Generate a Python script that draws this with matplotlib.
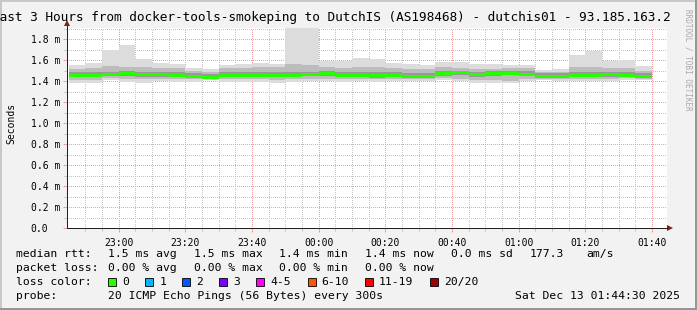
import matplotlib.pyplot as plt
import numpy as np
from matplotlib.patches import Rectangle

# time axis: minutes after 22:00, one smoke step every 5 minutes (22:45 .. 01:35)
step_start = np.arange(45, 220, 5)
t_begin, t_end = 44.5, 224.5          # 22:44:30 .. 01:44:30

# round trip times in ms
rtt_max = [1.552, 1.574, 1.695, 1.743, 1.610, 1.574, 1.562, 1.521, 1.511, 1.552,
           1.562, 1.574, 1.562, 1.950, 1.950, 1.594, 1.594, 1.619, 1.610, 1.574,
           1.562, 1.552, 1.584, 1.578, 1.559, 1.559, 1.552, 1.552, 1.505, 1.514,
           1.648, 1.686, 1.590, 1.600, 1.543]
rtt_hi = [1.515, 1.520, 1.540, 1.530, 1.530, 1.520, 1.520, 1.500, 1.490, 1.520,
          1.525, 1.530, 1.530, 1.560, 1.550, 1.530, 1.520, 1.530, 1.530, 1.520,
          1.510, 1.510, 1.530, 1.520, 1.510, 1.510, 1.520, 1.520, 1.490, 1.490,
          1.530, 1.530, 1.520, 1.520, 1.500]
inner_hi = [1.485, 1.485, 1.490, 1.495, 1.490, 1.490, 1.490, 1.480, 1.470, 1.490,
            1.490, 1.490, 1.490, 1.490, 1.490, 1.495, 1.490, 1.490, 1.485, 1.485,
            1.480, 1.480, 1.495, 1.500, 1.490, 1.495, 1.500, 1.495, 1.475, 1.475,
            1.490, 1.490, 1.490, 1.490, 1.475]
rtt_median = [1.452, 1.450, 1.462, 1.470, 1.458, 1.458, 1.457, 1.445, 1.436, 1.457,
              1.452, 1.450, 1.450, 1.455, 1.462, 1.468, 1.452, 1.455, 1.448, 1.450,
              1.447, 1.447, 1.468, 1.478, 1.462, 1.470, 1.476, 1.466, 1.447, 1.447,
              1.456, 1.456, 1.458, 1.456, 1.440]
inner_lo = [1.435, 1.435, 1.445, 1.445, 1.440, 1.440, 1.440, 1.430, 1.425, 1.440,
            1.435, 1.435, 1.435, 1.440, 1.445, 1.445, 1.435, 1.440, 1.430, 1.435,
            1.430, 1.430, 1.450, 1.455, 1.440, 1.450, 1.455, 1.445, 1.430, 1.430,
            1.440, 1.440, 1.440, 1.440, 1.425]
rtt_lo = [1.410, 1.410, 1.425, 1.415, 1.415, 1.420, 1.415, 1.415, 1.420, 1.415,
          1.415, 1.415, 1.410, 1.415, 1.420, 1.420, 1.415, 1.420, 1.415, 1.420,
          1.415, 1.415, 1.425, 1.420, 1.410, 1.410, 1.405, 1.420, 1.420, 1.420,
          1.420, 1.420, 1.420, 1.425, 1.420]
rtt_min = [1.378, 1.378, 1.410, 1.394, 1.384, 1.403, 1.394, 1.394, 1.410, 1.394,
           1.394, 1.394, 1.384, 1.394, 1.403, 1.403, 1.394, 1.400, 1.394, 1.403,
           1.400, 1.400, 1.410, 1.400, 1.385, 1.385, 1.380, 1.400, 1.410, 1.400,
           1.400, 1.400, 1.400, 1.410, 1.410]

x_major = [60, 80, 100, 120, 140, 160, 180, 200, 220]
x_labels = ['23:00', '23:20', '23:40', '00:00', '00:20', '00:40', '01:00', '01:20', '01:40']
y_major = [0.0, 0.2, 0.4, 0.6, 0.8, 1.0, 1.2, 1.4, 1.6, 1.8]
y_labels = ['0.0', '0.2 m', '0.4 m', '0.6 m', '0.8 m', '1.0 m', '1.2 m', '1.4 m', '1.6 m', '1.8 m']

loss_labels = ['0', '1', '2', '3', '4-5', '6-10', '11-19', '20/20']
loss_colors = ['#26ff00', '#00b8ff', '#0059ff', '#7e00ff', '#ff00ff', '#ff5500', '#ff0000', '#a10000']

rtt_stats = ['1.5 ms avg', '1.5 ms max', '1.4 ms min', '1.4 ms now', '0.0 ms sd', '177.3', 'am/s']
loss_stats = ['0.00 % avg', '0.00 % max', '0.00 % min', '0.00 % now']

W, H = 697, 310
MONO = 'DejaVu Sans Mono'
BACK = '#f2f2f2'
GRID = '#c4c4c4'
MGRID = '#f0a0a0'
AXIS = (0.12, 0.12, 0.12)
ARROW = (0.5, 0.12, 0.12)


def fx(px):
    return px / W


def fy(py):
    return 1 - py / H


fig = plt.figure(figsize=(W / 100, H / 100), dpi=100, facecolor=BACK)

# 3d border
fig.add_artist(Rectangle((0, fy(2)), 1, 2 / H, transform=fig.transFigure, color='#c8c8c8', lw=0))
fig.add_artist(Rectangle((0, 0), 2 / W, 1, transform=fig.transFigure, color='#c8c8c8', lw=0))
fig.add_artist(Rectangle((0, 0), 1, 2 / H, transform=fig.transFigure, color='#969696', lw=0))
fig.add_artist(Rectangle((1 - 2 / W, 0), 2 / W, 1, transform=fig.transFigure, color='#969696', lw=0))

ax = fig.add_axes([fx(67), fy(228), 600 / W, (228 - 27.5) / H])
ax.set_facecolor('white')

edges = np.append(step_start, step_start[-1] + 5)


def ext(v):
    v = np.asarray(v)
    return np.append(v, v[-1])


ax.fill_between(edges, ext(rtt_min), ext(rtt_max), step='post', color='#dcdcdc', lw=0, zorder=2)
ax.fill_between(edges, ext(rtt_lo), ext(rtt_hi), step='post', color='#bcbcbc', lw=0, zorder=2)
ax.fill_between(edges, ext(inner_lo), ext(inner_hi), step='post', color='#999999', lw=0, zorder=2)

# median drawn as a thin band in the loss colour
half = 1.5 / 105
med = ext(rtt_median)
ax.fill_between(edges, med - half, med + half, step='post', color=loss_colors[0], lw=0, zorder=3)

ax.set_xlim(t_begin, t_end)
ax.set_ylim(0, 1.91)

ax.set_xticks(x_major)
ax.set_xticklabels(x_labels)
ax.set_xticks([m for m in range(50, 225, 5) if m not in x_major], minor=True)
ax.set_yticks(y_major)
ax.set_yticklabels(y_labels)
ax.set_yticks(np.arange(0.1, 1.95, 0.2), minor=True)

ax.set_axisbelow(True)
ax.grid(which='major', color=MGRID, linestyle=(0, (1, 2)), linewidth=0.72, antialiased=False)
ax.grid(which='minor', color=GRID, linestyle=(0, (1, 2)), linewidth=0.72, antialiased=False)

ax.tick_params(which='major', length=3, width=0.72, color=MGRID, labelsize=7)
ax.tick_params(which='minor', length=2, width=0.72, color=GRID)
ax.tick_params(axis='x', pad=4)
ax.tick_params(axis='y', pad=23.2)
for lbl in ax.get_xticklabels() + ax.get_yticklabels():
    lbl.set_fontfamily(MONO)
for lbl in ax.get_yticklabels():
    lbl.set_horizontalalignment('left')

ax.spines['top'].set_visible(False)
ax.spines['right'].set_visible(False)
ax.spines['left'].set_color(AXIS)
ax.spines['bottom'].set_color(AXIS)
ax.spines['left'].set_linewidth(0.72)
ax.spines['bottom'].set_linewidth(0.72)

# axis arrows
ax.plot([0, 0], [1, 1 + 4 / 200.5], color=AXIS, lw=0.72, transform=ax.transAxes, clip_on=False)
ax.plot([1, 1 + 3 / 600], [0, 0], color=AXIS, lw=0.72, transform=ax.transAxes, clip_on=False)
ax.plot([0], [1 + 4 / 200.5], marker='^', ms=4.5, color=ARROW, mew=0, transform=ax.transAxes, clip_on=False)
ax.plot([1 + 3 / 600], [0], marker='>', ms=4.5, color=ARROW, mew=0, transform=ax.transAxes, clip_on=False)

fig.text(fx(-7.7), fy(17), 'Last 3 Hours from docker-tools-smokeping to DutchIS (AS198468) - dutchis01 - 93.185.163.2',
         family=MONO, fontsize=9.2, ha='left', va='center')
fig.text(fx(11), fy(123), 'Seconds', family=MONO, fontsize=7, rotation=90, ha='center', va='center')
fig.text(fx(688), fy(60), 'RRDTOOL / TOBI OETIKER', family=MONO, fontsize=5.5, rotation=-90,
         ha='center', va='center', color='#a8a8a8')

LEG = 8.2
row = [254, 268, 282, 296]
stat_x = [107.6, 193.8, 279, 365, 451, 530, 586]

fig.text(fx(16.4), fy(row[0]), 'median rtt:', family=MONO, fontsize=LEG, va='center')
for s, px in zip(rtt_stats, stat_x):
    fig.text(fx(px), fy(row[0]), s, family=MONO, fontsize=LEG, va='center')

fig.text(fx(16.4), fy(row[1]), 'packet loss:', family=MONO, fontsize=LEG, va='center')
for s, px in zip(loss_stats, stat_x):
    fig.text(fx(px), fy(row[1]), s, family=MONO, fontsize=LEG, va='center')

fig.text(fx(16.4), fy(row[2]), 'loss color:', family=MONO, fontsize=LEG, va='center')
box_x = [108.4, 145.3, 182, 219, 256.4, 307.5, 365, 430]
for lab, col, px in zip(loss_labels, loss_colors, box_x):
    fig.add_artist(Rectangle((fx(px), fy(row[2] + 4)), 8 / W, 8 / H, transform=fig.transFigure,
                             facecolor=col, edgecolor='black', lw=0.6))
    fig.text(fx(px + 14), fy(row[2]), lab, family=MONO, fontsize=LEG, va='center')

fig.text(fx(16.4), fy(row[3]), 'probe:', family=MONO, fontsize=LEG, va='center')
fig.text(fx(107.6), fy(row[3]), '20 ICMP Echo Pings (56 Bytes) every 300s', family=MONO, fontsize=LEG, va='center')
fig.text(fx(680), fy(row[3]), 'Sat Dec 13 01:44:30 2025', family=MONO, fontsize=LEG, va='center', ha='right')

fig.savefig('out.png', dpi=100, facecolor=BACK)
